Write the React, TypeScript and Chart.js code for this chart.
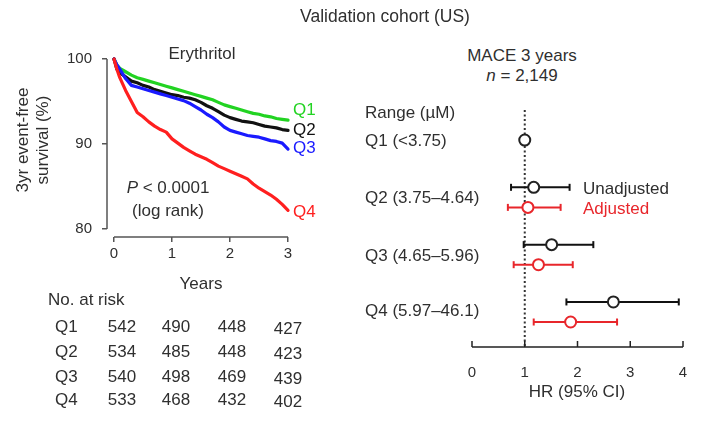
import React, { useEffect, useRef } from 'react';
import { Chart, registerables } from 'chart.js';

Chart.register(...registerables);

// ---------- Data ----------
const years = [0, 0.05, 0.1, 0.2, 0.3, 0.4, 0.5, 0.6, 0.7, 0.8, 0.9, 1.0, 1.1, 1.2, 1.3, 1.4, 1.5, 1.6, 1.7, 1.8, 1.9, 2.0, 2.1, 2.2, 2.3, 2.4, 2.5, 2.6, 2.7, 2.8, 2.9, 3.0];
const survQ1 = [100, 99.3, 98.9, 98.5, 98.1, 97.8, 97.6, 97.4, 97.2, 97.0, 96.8, 96.6, 96.4, 96.2, 96.0, 95.8, 95.6, 95.4, 95.2, 94.9, 94.6, 94.4, 94.2, 94.0, 93.8, 93.6, 93.5, 93.3, 93.2, 93.0, 92.9, 92.8];
const survQ2 = [100, 98.8, 98.4, 97.9, 97.4, 97.2, 96.9, 96.7, 96.4, 96.2, 96.0, 95.8, 95.7, 95.5, 95.4, 95.2, 94.9, 94.5, 94.2, 93.8, 93.4, 93.1, 92.9, 92.7, 92.6, 92.5, 92.3, 92.1, 92.0, 91.9, 91.7, 91.6];
const survQ3 = [100, 99.3, 98.8, 97.7, 96.9, 96.7, 96.5, 96.3, 96.1, 95.9, 95.7, 95.5, 95.3, 95.1, 94.8, 94.4, 94.0, 93.5, 93.1, 92.6, 92.0, 91.6, 91.4, 91.2, 91.0, 90.9, 90.8, 90.6, 90.4, 90.3, 90.1, 89.4];
const survQ4 = [100, 98.8, 97.8, 96.3, 95.0, 93.7, 93.2, 92.6, 92.1, 91.7, 91.4, 90.6, 90.1, 89.6, 89.2, 88.8, 88.5, 88.2, 87.8, 87.4, 87.1, 86.8, 86.5, 86.2, 85.9, 85.3, 84.8, 84.4, 84.0, 83.5, 82.9, 82.2];
const kmLabels = ['Q1', 'Q2', 'Q3', 'Q4'];
const kmXTicks = [0, 1, 2, 3];
const kmYTicks = [80, 90, 100];

const riskLabels = ['Q1', 'Q2', 'Q3', 'Q4'];
const riskQ1 = [542, 490, 448, 427];
const riskQ2 = [534, 485, 448, 423];
const riskQ3 = [540, 498, 469, 439];
const riskQ4 = [533, 468, 432, 402];

const hrGroups = ['Q1 (<3.75)', 'Q2 (3.75–4.64)', 'Q3 (4.65–5.96)', 'Q4 (5.97–46.1)'];
const hrUnadj = [1, 1.17, 1.51, 2.68];
const ciUnadjLo = [null, 0.74, 0.98, 1.79];
const ciUnadjHi = [null, 1.85, 2.30, 3.92];
const hrAdj = [null, 1.06, 1.26, 1.87];
const ciAdjLo = [null, 0.68, 0.79, 1.17];
const ciAdjHi = [null, 1.68, 1.91, 2.75];
const hrXTicks = [0, 1, 2, 3, 4];
const hrRef = 1;

// ---------- Styles ----------
const FONT = '"Liberation Sans", Arial, sans-serif';
const TEXT = '#2f2f2f';
const AXIS = '#555555';
const GREEN = '#22d322';
const BLACK = '#111111';
const BLUE = '#1a1aff';
const RED = '#ff1f1f';
const FRED = '#e8262b';
const kmColors = [GREEN, BLACK, BLUE, RED];

const kmAxesPlugin = {
  id: 'kmAxes',
  afterDraw(chart: any) {
    const { ctx, chartArea, scales } = chart;
    const x = scales.x, y = scales.y;
    ctx.save();
    ctx.strokeStyle = AXIS;
    ctx.lineWidth = 1.5;
    ctx.beginPath();
    ctx.moveTo(chartArea.left, y.getPixelForValue(kmYTicks[kmYTicks.length - 1]));
    ctx.lineTo(chartArea.left, y.getPixelForValue(kmYTicks[0]));
    ctx.moveTo(x.getPixelForValue(kmXTicks[0]), chartArea.bottom);
    ctx.lineTo(x.getPixelForValue(kmXTicks[kmXTicks.length - 1]), chartArea.bottom);
    ctx.stroke();
    ctx.restore();
  },
};

const hrAxesPlugin = {
  id: 'hrAxes',
  afterDraw(chart: any) {
    const { ctx, chartArea, scales } = chart;
    const x = scales.x;
    ctx.save();
    ctx.strokeStyle = '#222';
    ctx.lineWidth = 1.5;
    ctx.beginPath();
    ctx.moveTo(x.getPixelForValue(hrXTicks[0]), chartArea.bottom);
    ctx.lineTo(x.getPixelForValue(hrXTicks[hrXTicks.length - 1]), chartArea.bottom);
    hrXTicks.forEach((v) => {
      const px = x.getPixelForValue(v);
      ctx.moveTo(px, chartArea.bottom);
      ctx.lineTo(px, chartArea.bottom - 6);
    });
    ctx.stroke();
    ctx.restore();
  },
};

function KMChart() {
  const ref = useRef<HTMLCanvasElement | null>(null);
  useEffect(() => {
    const series = [survQ1, survQ2, survQ3, survQ4];
    const chart = new Chart(ref.current as HTMLCanvasElement, {
      type: 'line',
      data: {
        datasets: series.map((s, i) => ({
          label: kmLabels[i],
          data: years.map((t, j) => ({ x: t, y: s[j] })),
          borderColor: kmColors[i],
          borderWidth: 3.2,
          borderJoinStyle: 'round',
          borderCapStyle: 'round',
          pointRadius: 0,
          tension: 0,
          fill: false,
          clip: false,
          order: 3 - i,
        })),
      },
      options: {
        animation: false,
        responsive: false,
        events: [],
        layout: { padding: { left: 0, top: 59, right: 40, bottom: 33 } },
        plugins: { legend: { display: false }, tooltip: { enabled: false } },
        scales: {
          x: {
            type: 'linear',
            min: -0.1207,
            max: 3.034,
            afterBuildTicks: (s: any) => { s.ticks = kmXTicks.map((v) => ({ value: v })); },
            afterFit: (s: any) => { s.height = 30; },
            grid: { display: true, drawOnChartArea: false, drawTicks: true, tickLength: 5, color: AXIS, lineWidth: 1.5 },
            border: { display: false },
            ticks: { font: { family: FONT, size: 15 }, color: TEXT, padding: 3, maxRotation: 0 },
          },
          y: {
            type: 'linear',
            min: 79.06,
            max: 100,
            afterBuildTicks: (s: any) => { s.ticks = kmYTicks.map((v) => ({ value: v })); },
            afterFit: (s: any) => { s.width = 107; },
            grid: { display: true, drawOnChartArea: false, drawTicks: true, tickLength: 5, color: AXIS, lineWidth: 1.5 },
            border: { display: false },
            ticks: { font: { family: FONT, size: 15 }, color: TEXT, padding: 10 },
          },
        },
      },
      plugins: [kmAxesPlugin],
    } as any);
    return () => chart.destroy();
  }, []);
  return <canvas ref={ref} width={330} height={300} style={{ position: 'absolute', left: 0, top: 0, width: 330, height: 300 }} />;
}

function HRChart() {
  const ref = useRef<HTMLCanvasElement | null>(null);
  useEffect(() => {
    const yMin = 0.476;
    const yMax = 4.611;
    const off = 0.175;
    const datasets: any[] = [];
    // reference line
    datasets.push({
      data: [{ x: hrRef, y: yMin }, { x: hrRef, y: yMax }],
      borderColor: '#333',
      borderWidth: 2,
      borderDash: [2, 2.5],
      pointRadius: 0,
      order: 3,
      clip: false,
    });
    hrGroups.forEach((_, i) => {
      const row = i + 1;
      if (ciUnadjLo[i] != null) {
        datasets.push({
          data: [{ x: ciUnadjLo[i], y: row - off }, { x: ciUnadjHi[i], y: row - off }],
          borderColor: BLACK,
          borderWidth: 2,
          pointStyle: 'line',
          pointRotation: 90,
          pointRadius: 3.5,
          pointBorderWidth: 2,
          pointBorderColor: BLACK,
          order: 2,
          clip: false,
        });
      }
      if (ciAdjLo[i] != null) {
        datasets.push({
          data: [{ x: ciAdjLo[i], y: row + off }, { x: ciAdjHi[i], y: row + off }],
          borderColor: FRED,
          borderWidth: 2,
          pointStyle: 'line',
          pointRotation: 90,
          pointRadius: 3.5,
          pointBorderWidth: 2,
          pointBorderColor: FRED,
          order: 2,
          clip: false,
        });
      }
    });
    datasets.push({
      data: hrUnadj.map((v, i) => ({ x: v, y: ciUnadjLo[i] == null ? i + 1 : i + 1 - off })),
      showLine: false,
      pointStyle: 'circle',
      pointRadius: 5.5,
      pointBorderWidth: 2,
      pointBorderColor: '#222',
      pointBackgroundColor: '#fff',
      order: 0,
      clip: false,
    });
    datasets.push({
      data: hrAdj.map((v, i) => (v == null ? null : { x: v, y: i + 1 + off })).filter((d) => d != null),
      showLine: false,
      pointStyle: 'circle',
      pointRadius: 5.5,
      pointBorderWidth: 2,
      pointBorderColor: FRED,
      pointBackgroundColor: '#fff',
      order: 0,
      clip: false,
    });
    const chart = new Chart(ref.current as HTMLCanvasElement, {
      type: 'line',
      data: { datasets },
      options: {
        animation: false,
        responsive: false,
        events: [],
        layout: { padding: { left: 132, top: 20, right: 34, bottom: 13 } },
        plugins: { legend: { display: false }, tooltip: { enabled: false } },
        scales: {
          x: {
            type: 'linear',
            min: 0,
            max: 4,
            afterBuildTicks: (s: any) => { s.ticks = hrXTicks.map((v) => ({ value: v })); },
            afterFit: (s: any) => { s.height = 30; },
            grid: { display: false },
            border: { display: false },
            ticks: { font: { family: FONT, size: 15 }, color: TEXT, padding: 9, maxRotation: 0 },
          },
          y: {
            type: 'linear',
            display: false,
            reverse: true,
            min: yMin,
            max: yMax,
          },
        },
      },
      plugins: [hrAxesPlugin],
    } as any);
    return () => chart.destroy();
  }, []);
  return <canvas ref={ref} width={377} height={300} style={{ position: 'absolute', left: 340, top: 90, width: 377, height: 300 }} />;
}

function T(props: { x: number; y: number; align?: 'left' | 'center' | 'right'; color?: string; size?: number; rotate?: boolean; children: React.ReactNode }) {
  const { x, y, align = 'left', color = TEXT, size = 17, rotate = false, children } = props;
  const tx = align === 'center' ? '-50%' : align === 'right' ? '-100%' : '0';
  return (
    <span
      style={{
        position: 'absolute',
        left: x,
        top: y,
        transform: `translate(${tx}, -50%)${rotate ? ' rotate(-90deg)' : ''}`,
        transformOrigin: rotate ? 'center center' : undefined,
        fontSize: size,
        lineHeight: 1,
        whiteSpace: 'nowrap',
        color,
        fontFamily: FONT,
      }}
    >
      {children}
    </span>
  );
}

export default function App() {
  const kmLabelY = [109, 129, 147, 211];
  const riskRows = [riskQ1, riskQ2, riskQ3, riskQ4];
  const riskRowY = [326, 351, 376, 399];
  const riskColX = [122, 176, 232, 288];
  const hrRowY = [140, 197, 255, 310];
  return (
    <div style={{ position: 'absolute', left: 0, top: 0, width: 717, height: 425, background: '#fff', overflow: 'hidden', fontFamily: FONT }}>
      <KMChart />
      <HRChart />
      <T x={385} y={17} align="center" size={17.5}>Validation cohort (US)</T>
      <T x={202} y={53} align="center">Erythritol</T>
      <T x={22} y={140} align="center" rotate>3yr event-free</T>
      <T x={42} y={140} align="center" rotate>survival (%)</T>
      <T x={201} y={283} align="center">Years</T>
      {kmLabels.map((l, i) => (
        <T key={l} x={293} y={kmLabelY[i]} color={kmColors[i]}>{l}</T>
      ))}
      <T x={168} y={187} align="center"><i>P</i> &lt; 0.0001</T>
      <T x={168} y={210} align="center">(log rank)</T>
      <T x={48} y={299}>No. at risk</T>
      {riskLabels.map((l, i) => (
        <React.Fragment key={l}>
          <T x={55} y={riskRowY[i]}>{l}</T>
          {riskRows[i].map((v, j) => (
            <T key={j} x={riskColX[j]} y={riskRowY[i] + (j === 3 ? 2 : 0)} align="center">{v}</T>
          ))}
        </React.Fragment>
      ))}
      <T x={522} y={55} align="center">MACE 3 years</T>
      <T x={522} y={75} align="center"><i>n</i> = 2,149</T>
      <T x={365} y={112}>Range (µM)</T>
      {hrGroups.map((g, i) => (
        <T key={g} x={365} y={hrRowY[i]}>{g}</T>
      ))}
      <T x={583} y={188}>Unadjusted</T>
      <T x={583} y={208} color={FRED}>Adjusted</T>
      <T x={577} y={391} align="center">HR (95% CI)</T>
    </div>
  );
}
